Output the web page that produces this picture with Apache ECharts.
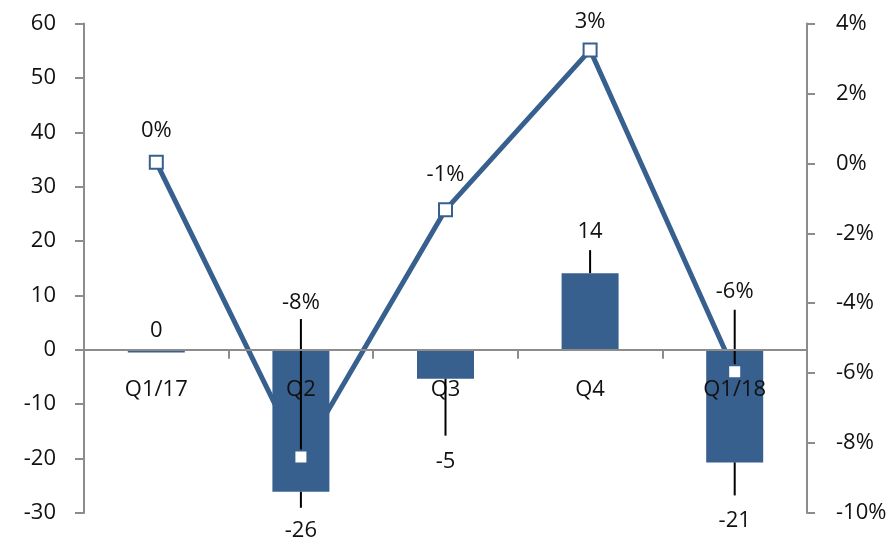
<!DOCTYPE html>
<html>
<head>
<meta charset="utf-8">
<script src="https://cdn.jsdelivr.net/npm/echarts@6/dist/echarts.min.js"></script>
<style>
html,body{margin:0;padding:0;background:#fff;}
#chart{width:895px;height:545px;}
</style>
</head>
<body>
<div id="chart"></div>
<script>
// ---- data ----
var categories = ['Q1/17', 'Q2', 'Q3', 'Q4', 'Q1/18'];
var barValues = [-0.49, -26.1, -5.3, 14.1, -20.7];     // left axis
var lineValues = [0.03, -8.4, -1.33, 3.24, -5.96];      // right axis, %
var leftTicks = { min: -30, max: 60, interval: 10 };
var rightTicks = { min: -10, max: 4, interval: 2 };

// ---- label styling (pixel offsets from the mark, not data) ----
var barLabelDy = [-22, 39, 83, -41, 58];
var barLeader = [null, [0, 16], [0, 57], [0, -23], [0, 33]];
var lineLabelDy = [-32, -154, -35, -28, -80];
var lineLeader = [null, [0, -138], null, null, [0, -62]];
var categoryLabelDy = 40;

var BLUE = '#37608f';
var AXIS = '#8c8c8c';
var TEXT = '#111111';
var FONT = '22px "Open Sans", sans-serif';

function textEl(x, y, s) {
  return {
    type: 'text', x: x, y: y,
    style: {
      text: s, fill: TEXT, font: FONT,
      align: 'center', verticalAlign: 'middle',
      textAlign: 'center', textVerticalAlign: 'middle'
    }
  };
}

function fmtInt(v) {
  var r = Math.round(v);
  return String(r === 0 ? 0 : r);
}

function labelRenderer(dyArr, leaderArr, fmt) {
  return function (params, api) {
    var pt = api.coord([api.value(0), api.value(1)]);
    var i = params.dataIndex;
    var children = [];
    var ld = leaderArr[i];
    if (ld) {
      children.push({
        type: 'line',
        shape: { x1: pt[0], y1: pt[1] + ld[0], x2: pt[0], y2: pt[1] + ld[1] },
        style: { stroke: '#000', lineWidth: 2 }
      });
    }
    children.push(textEl(pt[0], pt[1] + dyArr[i], fmt(api.value(1))));
    return { type: 'group', children: children };
  };
}

var chart = echarts.init(document.getElementById('chart'));
chart.setOption({
  animation: false,
  backgroundColor: '#fff',
  textStyle: { fontFamily: '"Open Sans", sans-serif' },
  grid: { left: 84, right: 88, top: 23.5, bottom: 32, containLabel: false, outerBoundsMode: 'none' },
  xAxis: {
    type: 'category',
    data: categories,
    z: 10,
    axisLine: { onZero: true, lineStyle: { color: AXIS, width: 2 } },
    axisTick: { show: true, inside: false, length: 9, alignWithLabel: false, lineStyle: { color: AXIS, width: 2 } },
    axisLabel: { show: false },
    splitLine: { show: false }
  },
  yAxis: [{
    type: 'value',
    min: leftTicks.min, max: leftTicks.max, interval: leftTicks.interval,
    axisLine: { show: true, onZero: false, lineStyle: { color: AXIS, width: 2 } },
    axisTick: { show: true, length: 9, lineStyle: { color: AXIS, width: 2 } },
    axisLabel: { color: TEXT, fontSize: 22, margin: 28 },
    splitLine: { show: false }
  }, {
    type: 'value',
    position: 'right',
    min: rightTicks.min, max: rightTicks.max, interval: rightTicks.interval,
    axisLine: { show: true, onZero: false, lineStyle: { color: AXIS, width: 2 } },
    axisTick: { show: true, length: 8, lineStyle: { color: AXIS, width: 2 } },
    axisLabel: { color: TEXT, fontSize: 22, margin: 29, formatter: function (v) { return v + '%'; } },
    splitLine: { show: false }
  }],
  series: [{
    type: 'bar',
    data: barValues,
    barWidth: 57,
    itemStyle: { color: BLUE },
    z: 2
  }, {
    // category labels attached to the zero line, drawn above the bars
    type: 'custom',
    coordinateSystem: 'cartesian2d',
    yAxisIndex: 0,
    data: categories.map(function (c, i) { return [i, 0]; }),
    encode: { x: 0, y: 1 },
    renderItem: function (params, api) {
      var pt = api.coord([api.value(0), 0]);
      return textEl(pt[0], pt[1] + categoryLabelDy, categories[params.dataIndex]);
    },
    silent: true,
    z: 3
  }, {
    type: 'custom',
    coordinateSystem: 'cartesian2d',
    yAxisIndex: 0,
    data: categories.map(function (c, i) { return [i, barValues[i]]; }),
    encode: { x: 0, y: 1 },
    renderItem: labelRenderer(barLabelDy, barLeader, fmtInt),
    z: 4
  }, {
    type: 'custom',
    coordinateSystem: 'cartesian2d',
    yAxisIndex: 1,
    data: categories.map(function (c, i) { return [i, lineValues[i]]; }),
    encode: { x: 0, y: 1 },
    renderItem: labelRenderer(lineLabelDy, lineLeader, function (v) { return fmtInt(v) + '%'; }),
    z: 5
  }, {
    type: 'line',
    yAxisIndex: 1,
    data: lineValues,
    symbol: 'rect',
    symbolSize: 13,
    lineStyle: { color: BLUE, width: 5 },
    itemStyle: { color: '#fff', borderColor: BLUE, borderWidth: 2 },
    z: 6
  }]
});
</script>
</body>
</html>
